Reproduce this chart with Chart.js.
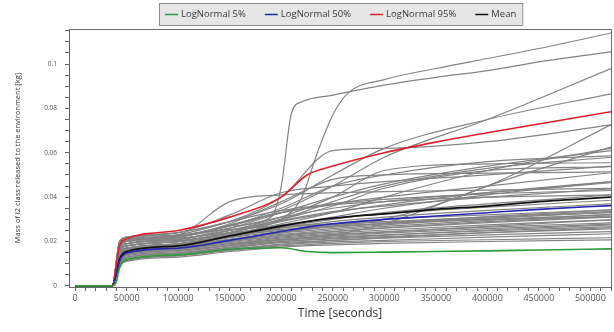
<!DOCTYPE html>
<html><head><meta charset="utf-8">
<script src="https://cdn.jsdelivr.net/npm/chart.js@4.4.1/dist/chart.umd.min.js"></script>
<style>html,body{margin:0;padding:0;background:#fff;}#wrap{width:614px;height:332px;position:relative;}</style>
</head><body><div id="wrap"><canvas id="c" width="614" height="332"></canvas></div>
<script>
// ---- axis tick labels ----
const xTickLabels = ['0','50000','100000','150000','200000','250000','300000','350000','400000','450000','500000'];
const yTickLabels = ['0','0.02','0.04','0.06','0.08','0.1'];

// ---- series labels ----
const seriesNames = ['LogNormal 5%','LogNormal 50%','LogNormal 95%','Mean'];

// ---- time grids (seconds) ----
const tStat = [0, 36000, 40000, 43000, 50000, 100000, 150000, 200000, 225000, 250000, 300000, 350000, 400000, 450000, 520000];
const tRun  = [0, 36000, 43000, 50000, 100000, 150000, 200000, 250000, 300000, 400000, 520000];
const tRunA = [0, 36000, 43000, 50000, 100000, 150000, 190000, 200000, 210000, 220000, 250000, 300000, 350000, 400000, 450000, 520000];
const tRunB = [0, 36000, 43000, 50000, 100000, 150000, 200000, 220000, 235000, 250000, 265000, 300000, 350000, 400000, 450000, 520000];

// ---- statistic curves (kg) ----
const logN5  = [0,0,0.002,0.008,0.0118,0.0140,0.0165,0.0172,0.0155,0.0150,0.0152,0.0155,0.0158,0.0162,0.0167];
const logN50 = [0,0,0.005,0.011,0.0148,0.0170,0.0205,0.0245,0.0265,0.0280,0.0300,0.0315,0.0330,0.0345,0.0362];
const logN95 = [0,0,0.010,0.018,0.0212,0.0250,0.0310,0.0400,0.0500,0.0540,0.0600,0.0648,0.0690,0.0730,0.0785];
const meanC  = [0,0,0.006,0.012,0.0155,0.0180,0.0225,0.0270,0.0290,0.0305,0.0325,0.0345,0.0360,0.0380,0.0400];

// ---- individual sample runs (kg) ----
const runA = [0,0,0.017,0.020,0.022,0.027,0.031,0.045,0.078,0.083,0.086,0.0905,0.094,0.097,0.101,0.1055];
const runB = [0,0,0.016,0.019,0.021,0.025,0.030,0.040,0.060,0.077,0.087,0.093,0.098,0.1025,0.107,0.114];
const g01 = [0,0,0.0090,0.0110,0.0130,0.0155,0.0175,0.0185,0.0192,0.0200,0.0207];
const g02 = [0,0,0.0095,0.0115,0.0135,0.0160,0.0180,0.0192,0.0200,0.0208,0.0217];
const g03 = [0,0,0.0100,0.0120,0.0140,0.0165,0.0185,0.0198,0.0205,0.0220,0.0235];
const g04 = [0,0,0.0105,0.0125,0.0145,0.0170,0.0195,0.0205,0.0215,0.0230,0.0245];
const g05 = [0,0,0.0110,0.0130,0.0150,0.0175,0.0200,0.0212,0.0222,0.0240,0.0257];
const g06 = [0,0,0.0115,0.0135,0.0155,0.0180,0.0205,0.0220,0.0230,0.0248,0.0267];
const g07 = [0,0,0.0120,0.0140,0.0160,0.0185,0.0210,0.0225,0.0238,0.0258,0.0278];
const g08 = [0,0,0.0125,0.0145,0.0165,0.0190,0.0215,0.0232,0.0245,0.0265,0.0284];
const g09 = [0,0,0.0130,0.0150,0.0170,0.0195,0.0220,0.0238,0.0252,0.0275,0.0298];
const g10 = [0,0,0.0135,0.0155,0.0175,0.0200,0.0228,0.0245,0.0260,0.0285,0.0310];
const g11 = [0,0,0.0140,0.0160,0.0180,0.0205,0.0232,0.0252,0.0268,0.0295,0.0322];
const g12 = [0,0,0.0145,0.0165,0.0185,0.0210,0.0238,0.0258,0.0275,0.0305,0.0335];
const g13 = [0,0,0.0150,0.0170,0.0190,0.0218,0.0245,0.0265,0.0282,0.0312,0.0343];
const g14 = [0,0,0.0160,0.0180,0.0198,0.0225,0.0250,0.0268,0.0280,0.0300,0.0320];
const g15 = [0,0,0.0170,0.0190,0.0205,0.0230,0.0255,0.0270,0.0282,0.0305,0.0330];
const g16 = [0,0,0.0180,0.0200,0.0215,0.0240,0.0262,0.0278,0.0290,0.0310,0.0335];
const g17 = [0,0,0.0110,0.0128,0.0148,0.0172,0.0198,0.0215,0.0228,0.0252,0.0275];
const g18 = [0,0,0.0125,0.0142,0.0160,0.0182,0.0208,0.0228,0.0242,0.0268,0.0298];
const g19 = [0,0,0.0140,0.0158,0.0175,0.0200,0.0225,0.0245,0.0262,0.0290,0.0315];
const g20 = [0,0,0.0195,0.0215,0.0230,0.0255,0.0270,0.0280,0.0288,0.0300,0.0310];
const g21 = [0,0,0.0100,0.0118,0.0138,0.0162,0.0188,0.0205,0.0218,0.0240,0.0262];
const g22 = [0,0,0.0150,0.0170,0.0190,0.0220,0.0260,0.0290,0.0310,0.0340,0.0370];
const g23 = [0,0,0.0160,0.0180,0.0200,0.0235,0.0275,0.0305,0.0325,0.0355,0.0386];
const g24 = [0,0,0.0145,0.0165,0.0185,0.0220,0.0265,0.0300,0.0330,0.0370,0.0410];
const g25 = [0,0,0.0170,0.0190,0.0210,0.0250,0.0295,0.0335,0.0360,0.0400,0.0437];
const g26 = [0,0,0.0180,0.0200,0.0220,0.0260,0.0310,0.0350,0.0380,0.0420,0.0465];
const g27 = [0,0,0.0160,0.0180,0.0200,0.0240,0.0290,0.0330,0.0365,0.0420,0.0470];
const g28 = [0,0,0.0190,0.0210,0.0230,0.0380,0.0410,0.0420,0.0425,0.0432,0.0440];
const g29 = [0,0,0.0190,0.0210,0.0225,0.0275,0.0330,0.0365,0.0380,0.0400,0.0410];
const g30 = [0,0,0.0200,0.0220,0.0240,0.0290,0.0340,0.0370,0.0390,0.0415,0.0430];
const g31 = [0,0,0.0130,0.0150,0.0170,0.0205,0.0245,0.0275,0.0300,0.0320,0.0343];
const g32 = [0,0,0.0150,0.0170,0.0190,0.0220,0.0270,0.0310,0.0350,0.0410,0.0470];
const g33 = [0,0,0.0185,0.0205,0.0225,0.0270,0.0330,0.0370,0.0400,0.0450,0.0510];
const g34 = [0,0,0.0180,0.0200,0.0220,0.0280,0.0380,0.0480,0.0500,0.0508,0.0514];
const g35 = [0,0,0.0170,0.0190,0.0210,0.0250,0.0310,0.0400,0.0520,0.0550,0.0555];
const g36 = [0,0,0.0160,0.0180,0.0200,0.0240,0.0300,0.0360,0.0440,0.0520,0.0537];
const g37 = [0,0,0.0130,0.0150,0.0170,0.0190,0.0210,0.0230,0.0280,0.0450,0.0627];
const g38 = [0,0,0.0150,0.0170,0.0190,0.0230,0.0280,0.0330,0.0400,0.0520,0.0620];
const g39 = [0,0,0.0170,0.0190,0.0210,0.0260,0.0330,0.0400,0.0460,0.0540,0.0610];
const g40 = [0,0,0.0180,0.0200,0.0220,0.0270,0.0350,0.0450,0.0500,0.0560,0.0586];
const g41 = [0,0,0.0160,0.0180,0.0200,0.0240,0.0300,0.0380,0.0450,0.0530,0.0580];
const g42 = [0,0,0.0200,0.0220,0.0240,0.0290,0.0400,0.0610,0.0620,0.0650,0.0726];
const g43 = [0,0,0.0140,0.0160,0.0180,0.0210,0.0240,0.0270,0.0300,0.0450,0.0726];
const g44 = [0,0,0.0180,0.0200,0.0220,0.0270,0.0340,0.0450,0.0580,0.0750,0.0980];
const g45 = [0,0,0.0190,0.0210,0.0230,0.0290,0.0370,0.0500,0.0620,0.0750,0.0866];
const g46 = [0,0,0.0200,0.0220,0.0240,0.0320,0.0420,0.0450,0.0470,0.0500,0.0540];
const gridRuns = [g01,g02,g03,g04,g05,g06,g07,g08,g09,g10,g11,g12,g13,g14,g15,g16,g17,g18,g19,g20,g21,g22,g23,g24,g25,g26,g27,g28,g29,g30,g31,g32,g33,g34,g35,g36,g37,g38,g39,g40,g41,g42,g43,g44,g45,g46];

// ---- build datasets ----
const pts = (t, v) => t.map((x, i) => ({x: x, y: v[i]}));
const statColors = ['#2f9a3a', '#2626b4', '#e0202c', '#111111'];
const statVals = [logN5, logN50, logN95, meanC];
const datasets = [];
statVals.forEach((v, i) => datasets.push({
  label: seriesNames[i], data: pts(tStat, v), borderColor: statColors[i],
  borderWidth: i === 3 ? 1.8 : 1.6, pointRadius: 0, cubicInterpolationMode: 'monotone', fill: false
}));
const grayStyle = {borderColor: '#848484', borderWidth: 1.2, pointRadius: 0, cubicInterpolationMode: 'monotone', fill: false};
datasets.push(Object.assign({label: 'run', data: pts(tRunA, runA)}, grayStyle));
datasets.push(Object.assign({label: 'run', data: pts(tRunB, runB)}, grayStyle));
gridRuns.forEach(v => datasets.push(Object.assign({label: 'run', data: pts(tRun, v)}, grayStyle)));

const xMajor = xTickLabels.map(Number);
const yMajor = yTickLabels.map(Number);

const framePlugin = {
  id: 'frameAndLegend',
  afterDraw(chart) {
    const ctx = chart.ctx, a = chart.chartArea;
    ctx.save();
    ctx.strokeStyle = '#6a6a6a'; ctx.lineWidth = 1;
    ctx.beginPath();
    ctx.moveTo(a.left, a.top + 0.5); ctx.lineTo(a.right + 0.5, a.top + 0.5); ctx.lineTo(a.right + 0.5, a.bottom);
    ctx.stroke();
    // legend
    ctx.font = '9.5px "Open Sans"';
    const lineW = 13, gapT = 3, gapI = 19, padX = 6;
    const items = chart.data.datasets.slice(0, 4);
    const widths = items.map(d => lineW + gapT + ctx.measureText(d.label).width);
    const total = widths.reduce((s, w) => s + w, 0) + gapI * (items.length - 1);
    const cx = (a.left + a.right) / 2 + 1;
    let x = Math.round(cx - total / 2);
    const top = 3.5, h = 22, my = 14.5;
    ctx.fillStyle = '#e6e6e6';
    ctx.fillRect(x - padX, top, total + 2 * padX, h);
    ctx.strokeStyle = '#8c8c8c';
    ctx.strokeRect(x - padX + 0.5, top, total + 2 * padX, h);
    ctx.textBaseline = 'middle';
    items.forEach((d, i) => {
      ctx.strokeStyle = d.borderColor; ctx.lineWidth = 1.5;
      ctx.beginPath(); ctx.moveTo(x, my); ctx.lineTo(x + lineW, my); ctx.stroke();
      ctx.fillStyle = '#3a3a3a';
      ctx.fillText(d.label, x + lineW + gapT, my);
      x += widths[i] + gapI;
    });
    ctx.restore();
  }
};

new Chart(document.getElementById('c'), {
  type: 'line',
  data: {datasets: datasets},
  plugins: [framePlugin],
  options: {
    responsive: false, animation: false, devicePixelRatio: 1,
    layout: {padding: {top: 29, right: 3, left: 0, bottom: 0}, autoPadding: false},
    plugins: {legend: {display: false}, tooltip: {enabled: false}},
    elements: {line: {tension: 0}},
    scales: {
      x: {
        type: 'linear', min: -6000, max: 520000,
        afterBuildTicks: s => {
          const t = [];
          for (let v = 0; v <= 520000; v += 10000) t.push({value: v});
          s.ticks = t;
        },
        afterFit: s => { s.height = 45; },
        ticks: {
          autoSkip: false, maxRotation: 0, minRotation: 0, padding: 2, color: '#555',
          font: {family: 'Open Sans', size: 9},
          callback: v => { const i = xMajor.indexOf(v); return i >= 0 ? xTickLabels[i] : ''; }
        },
        grid: {drawOnChartArea: false, tickLength: 4, color: '#666'},
        border: {color: '#666'},
        title: {display: true, text: 'Time [seconds]', color: '#333', font: {family: 'Open Sans', size: 12}, padding: {top: 0, bottom: 11}}
      },
      y: {
        type: 'linear', min: -0.0005, max: 0.1158,
        afterBuildTicks: s => {
          const t = [];
          for (let k = 0; k <= 23; k++) t.push({value: Math.round(k * 5) / 1000});
          s.ticks = t;
        },
        afterFit: s => { s.width = 69; },
        ticks: {
          autoSkip: false, padding: 8, color: '#555',
          font: {family: 'Open Sans', size: 6.5},
          callback: v => { const i = yMajor.findIndex(m => Math.abs(m - v) < 1e-9); return i >= 0 ? yTickLabels[i] : ''; }
        },
        grid: {drawOnChartArea: false, tickLength: 4, color: '#666'},
        border: {color: '#666'},
        title: {display: true, text: 'Mass of I2 class released to the environment [kg]', color: '#333', font: {family: 'Open Sans', size: 7.5}, padding: {top: 13, bottom: 0}}
      }
    }
  }
});
</script></body></html>
